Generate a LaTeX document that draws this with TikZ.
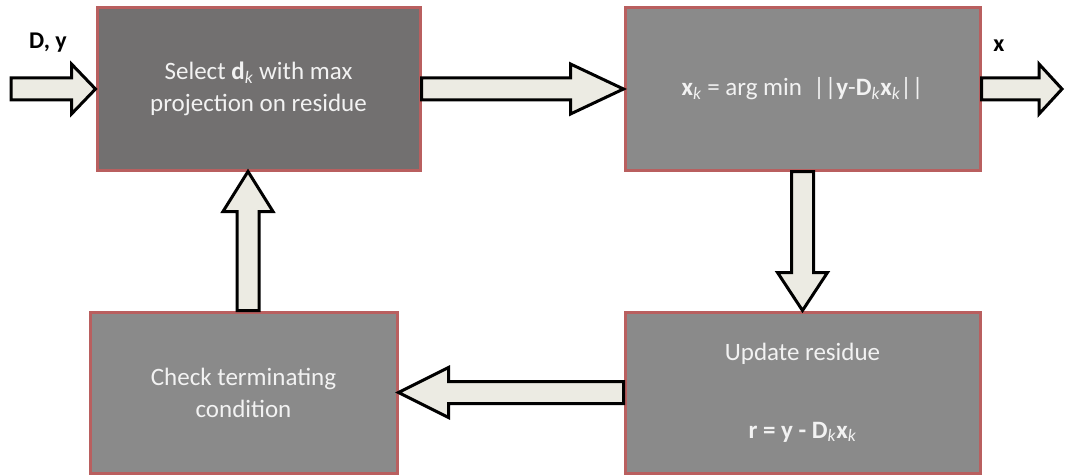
\documentclass[tikz,border=0pt]{standalone}
\usepackage{fontspec}
\setmainfont{Carlito}
\usepackage{tikz}
\usetikzlibrary{calc,positioning}

\definecolor{boxline}{RGB}{185,95,95}
\definecolor{boxdark}{RGB}{114,112,112}
\definecolor{boxgray}{RGB}{138,138,138}
\definecolor{boxtext}{RGB}{242,242,242}
\definecolor{arrowfill}{RGB}{236,235,227}

\tikzset{
	box/.style={draw=boxline,line width=3pt,fill=boxgray,text=boxtext,align=center,
		font=\fontsize{25}{32}\selectfont,inner sep=0pt},
	selbox/.style={box,fill=boxdark},
	flowarrow/.style={draw=black,line width=3pt,fill=arrowfill,line join=miter},
	iolabel/.style={font=\fontsize{24}{26}\selectfont\bfseries}
}

% block arrow from #2 to #3, head length #1
\newcommand{\blockarrow}[3][40]{%
	\coordinate (ba-s) at (#2);
	\coordinate (ba-e) at (#3);
	\coordinate (ba-h) at ($(ba-e)!#1pt!(ba-s)$);
	\draw[flowarrow] ($(ba-s)!11pt!90:(ba-e)$) -- ($(ba-h)!11pt!90:(ba-e)$)
		-- ($(ba-h)!25pt!90:(ba-e)$) -- (ba-e) -- ($(ba-h)!25pt!-90:(ba-e)$)
		-- ($(ba-h)!11pt!-90:(ba-e)$) -- ($(ba-s)!11pt!-90:(ba-e)$) -- cycle;
}

\begin{document}
\begin{tikzpicture}[x=1pt,y=-1pt]
		\useasboundingbox (0,0) rectangle (1065,476);

		\node[selbox,minimum width=323pt,minimum height=162pt] (sel) at (258.5,89)
			{Select \textbf{d}\textsubscript{\textit{k}} with max\\projection on residue};
		\node[box,minimum width=355pt,minimum height=162pt] (xk) at (802.5,89)
			{\textbf{x}\textsubscript{\textit{k}} = arg min \ ||\textbf{y}-\textbf{D}\textsubscript{\textit{k}}\textbf{x}\textsubscript{\textit{k}}||};
		\node[box,minimum width=355pt,minimum height=161pt] (upd) at (802.5,392.5)
			{Update residue\\[46pt]\textbf{r = y - D}\textsubscript{\textit{k}}\textbf{x}\textsubscript{\textit{k}}};
		\node[box,minimum width=307pt,minimum height=161pt] (chk) at (243.5,392.5)
			{Check terminating\\condition};

		\coordinate (in) at (11,89);
		\coordinate (out) at (1062,89);
		\coordinate (up-s) at ([xshift=4.5pt]chk.north);
		\coordinate (up-e) at (up-s |- sel.south);

		\node[iolabel] (inlabel) at (48,43) {D, y};
		\node[iolabel] (outlabel) at (999,46) {x};

		\blockarrow[24]{in}{sel.west}
		\blockarrow[53]{sel.east}{xk.west}
		\blockarrow[23]{xk.east}{out}
		\blockarrow[38]{xk.south}{upd.north}
		\blockarrow[50]{upd.west}{chk.east}
		\blockarrow[40]{up-s}{up-e}
	\end{tikzpicture}
\end{document}
